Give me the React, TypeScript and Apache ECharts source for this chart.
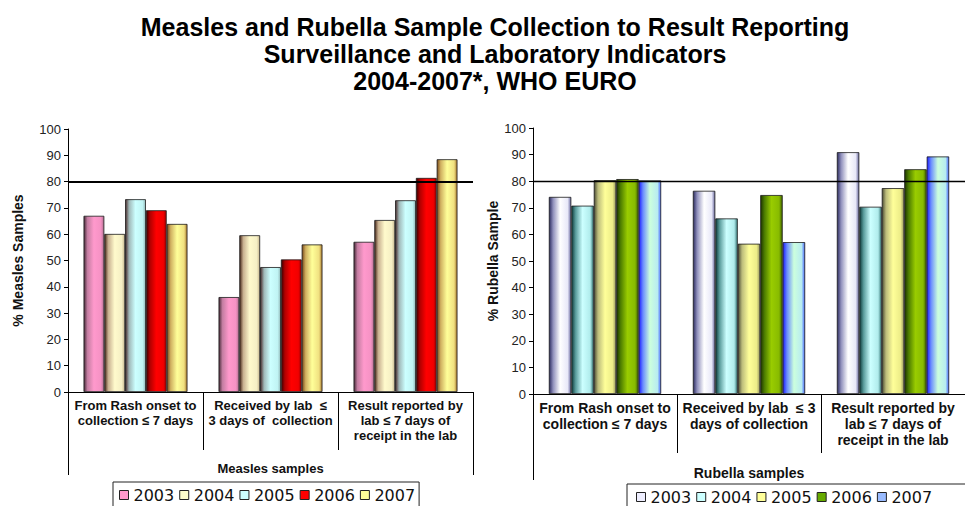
import React, { useEffect, useRef } from "react";
import * as echarts from "echarts";

const years = ["2003", "2004", "2005", "2006", "2007"];
const measlesCategories = [
  "From Rash onset to\ncollection ≤ 7 days",
  "Received by lab  ≤\n3 days of  collection",
  "Result reported by\nlab ≤ 7 days of\nreceipt in the lab",
];
const rubellaCategories = [
  "From Rash onset to\ncollection ≤ 7 days",
  "Received by lab  ≤ 3\ndays of collection",
  "Result reported by\nlab ≤ 7 days of\nreceipt in the lab",
];
// values per year, across the three indicators
const measles2003 = [67.0, 36.1, 57.1];
const measles2004 = [60.1, 59.6, 65.4];
const measles2005 = [73.3, 47.5, 72.9];
const measles2006 = [69.1, 50.4, 81.4];
const measles2007 = [63.9, 56.1, 88.5];

const rubella2003 = [74.1, 76.4, 90.9];
const rubella2004 = [70.8, 66.0, 70.4];
const rubella2005 = [80.4, 56.5, 77.4];
const rubella2006 = [80.8, 74.8, 84.5];
const rubella2007 = [80.3, 57.1, 89.3];

const targetLine = 80;
const yTicks = { min: 0, max: 100, interval: 10 };

const measlesValues = [measles2003, measles2004, measles2005, measles2006, measles2007];
const rubellaValues = [rubella2003, rubella2004, rubella2005, rubella2006, rubella2007];

// [left edge, shade, base, right shade, right edge]
const measlesColors = [
  ["#4a2c3a", "#c47ea2", "#ff99cc", "#f592c4", "#b07090"],
  ["#48281a", "#c8b090", "#fffacc", "#f5efc4", "#c8b890"],
  ["#4a2c2c", "#a0b8b8", "#ccffff", "#c0f4f4", "#98c0c0"],
  ["#380000", "#b00000", "#ff0000", "#f20000", "#a00000"],
  ["#7a4a1a", "#d0b060", "#ffff99", "#f0e080", "#a87830"],
];
const rubellaColors = [
  ["#2c2c60", "#9090bc", "#ffffff", "#e8e8f8", "#6a6aa0"],
  ["#0e3c3c", "#5a9c9c", "#ccffff", "#b0ecec", "#3a7a7a"],
  ["#4c4c34", "#bcbc7c", "#ffff99", "#ecec88", "#9a9a60"],
  ["#1e3400", "#4c7c00", "#99cc00", "#88bb00", "#406000"],
  ["#1c1cff", "#6a8cff", "#ccffdd", "#b8ecf0", "#4a6aff"],
];
const measlesLegendColors = ["#ff99cc", "#ffffcc", "#ccffff", "#ff0000", "#ffff99"];
const rubellaLegendColors = ["#eeeeff", "#ccffff", "#ffff99", "#66aa00", "#99bbff"];

function grad(c: string[]) {
  return new echarts.graphic.LinearGradient(0, 0, 1, 0, [
    { offset: 0, color: c[0] },
    { offset: 0.18, color: c[1] },
    { offset: 0.5, color: c[2] },
    { offset: 0.85, color: c[3] },
    { offset: 1, color: c[4] },
  ]);
}

const FONT = "Liberation Sans, Arial, sans-serif";

export default function App() {
  const ref = useRef<HTMLDivElement>(null);
  useEffect(() => {
    if (!ref.current) return;
    const chart = echarts.init(ref.current, undefined, { renderer: "svg" });

    const yAxisBase = (gridIndex: number, name: string, nameGap: number) => ({
      type: "value",
      gridIndex,
      min: yTicks.min,
      max: yTicks.max,
      interval: yTicks.interval,
      name,
      nameLocation: "middle",
      nameRotate: 90,
      nameGap,
      nameTextStyle: { fontFamily: FONT, fontWeight: "bold", fontSize: 14, color: "#111" },
      axisLine: { show: true, lineStyle: { color: "#000", width: 1 } },
      axisTick: { show: true, length: 4, lineStyle: { color: "#000" } },
      axisLabel: { fontFamily: FONT, fontSize: 13, color: "#222", margin: 7 },
      splitLine: { show: false },
    });

    const xAxisBase = (
      gridIndex: number,
      data: string[],
      name: string,
      nameGap: number,
      fontSize: number,
      lineHeight: number,
      tickLen: number
    ) => ({
      type: "category",
      gridIndex,
      data,
      name,
      nameLocation: "middle",
      nameGap,
      nameTextStyle: { fontFamily: FONT, fontWeight: "bold", fontSize, color: "#111" },
      axisLine: { show: true, lineStyle: { color: "#000", width: 1 } },
      axisTick: { show: true, length: tickLen, interval: 0, lineStyle: { color: "#000" } },
      axisLabel: {
        interval: 0,
        fontFamily: FONT,
        fontWeight: "bold",
        fontSize,
        lineHeight,
        color: "#111",
        margin: 6,
      },
    });

    const makeSeries = (
      prefix: string,
      values: number[][],
      colors: string[][],
      axis: number,
      gap: string,
      lineWidth: number
    ) =>
      years.map((y, i) => ({
        name: prefix + y,
        type: "bar",
        xAxisIndex: axis,
        yAxisIndex: axis,
        data: values[i],
        barGap: "0%",
        barCategoryGap: gap,
        itemStyle: { color: grad(colors[i]), borderColor: "#1a1a1a", borderWidth: 0.8 },
        markLine:
          i === years.length - 1
            ? {
                silent: true,
                symbol: "none",
                label: { show: false },
                lineStyle: { color: "#000", width: lineWidth, type: "solid" },
                data: [{ yAxis: targetLine }],
              }
            : undefined,
      }));

    const legendBase = (
      prefix: string,
      left: number,
      top: number,
      cols: string[],
      padLeft: number,
      padRight: number
    ) => ({
      left,
      top,
      width: 420,
      orient: "horizontal",
      itemWidth: 9,
      itemHeight: 9,
      itemGap: 5,
      padding: [5, padRight, 12, padLeft],
      borderColor: "#222",
      borderWidth: 1,
      selectedMode: false,
      formatter: (n: string) => n.slice(1),
      textStyle: { fontFamily: "DejaVu Sans, sans-serif", fontSize: 16, color: "#111" },
      data: years.map((y, i) => ({
        name: prefix + y,
        icon: "rect",
        itemStyle: { color: cols[i], borderColor: "#222", borderWidth: 1 },
      })),
    });

    chart.setOption({
      animation: false,
      backgroundColor: "#fff",
      title: {
        text: "Measles and Rubella Sample Collection to Result Reporting\nSurveillance and Laboratory Indicators\n2004-2007*, WHO EURO",
        left: 490,
        top: 8,
        textAlign: "center",
        textStyle: {
          fontFamily: FONT,
          fontWeight: "bold",
          fontSize: 25,
          lineHeight: 27,
          color: "#000",
        },
      },
      grid: [
        { left: 68, right: 492, top: 129, bottom: 114 },
        { left: 533, right: -8, top: 128, bottom: 112 },
      ],
      xAxis: [
        xAxisBase(0, measlesCategories, "Measles samples", 70, 13, 15, 58),
        xAxisBase(1, rubellaCategories, "Rubella samples", 72, 14, 16, 59),
      ],
      yAxis: [
        yAxisBase(0, "% Measles Samples", 43),
        yAxisBase(1, "% Rubella Sample", 33),
      ],
      legend: [
        legendBase("M", 113, 482, measlesLegendColors, 6, 4),
        legendBase("R", 627, 484, rubellaLegendColors, 9, 40),
      ],
      graphic: [
        { type: "line", shape: { x1: 68.5, y1: 392, x2: 68.5, y2: 475 }, style: { stroke: "#000", lineWidth: 1 } },
        { type: "line", shape: { x1: 473.5, y1: 392, x2: 473.5, y2: 475 }, style: { stroke: "#000", lineWidth: 1 } },
        { type: "line", shape: { x1: 533.5, y1: 394, x2: 533.5, y2: 480 }, style: { stroke: "#000", lineWidth: 1 } },
      ],
      series: [
        ...makeSeries("M", measlesValues, measlesColors, 0, "23%", 2),
        ...makeSeries("R", rubellaValues, rubellaColors, 1, "22%", 1.3),
      ],
    });
    return () => chart.dispose();
  }, []);
  return (
    <div
      ref={ref}
      style={{ position: "absolute", left: 0, top: 0, width: 965, height: 506 }}
    />
  );
}
